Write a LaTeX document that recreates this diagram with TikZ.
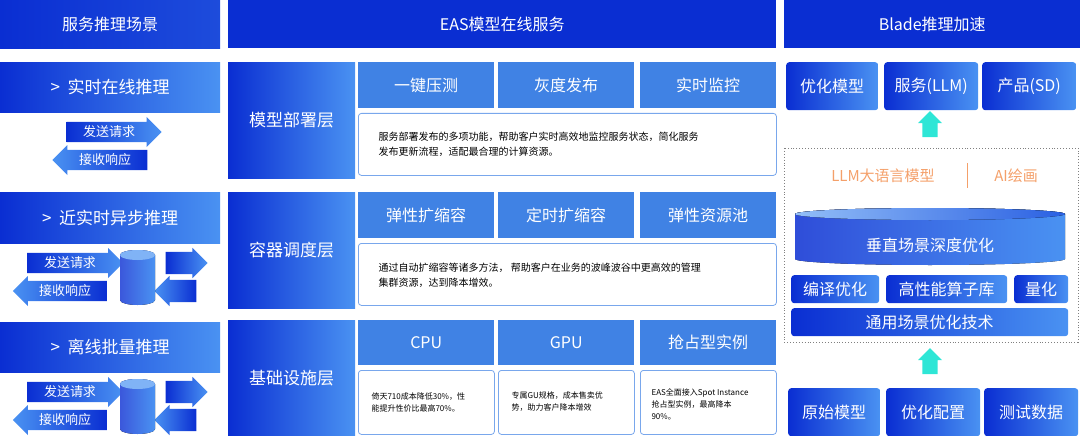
\documentclass[tikz,border=0pt]{standalone}
\usepackage{fontspec}
\setmainfont{Noto Sans CJK SC}
\usetikzlibrary{shapes.arrows,shapes.geometric}
\definecolor{dkb}{HTML}{0A2ED2}
\definecolor{ltb}{HTML}{4A92F2}
\definecolor{tabb}{HTML}{4082E4}
\definecolor{teal}{HTML}{2EE6D6}
\definecolor{org}{HTML}{F4A06A}
\begin{document}
\begin{tikzpicture}[x=1pt,y=-1pt,
  grad/.style={left color=dkb,right color=ltb,draw=none,text=white},
  hdr/.style={fill=dkb,text=white,font=\fontsize{16}{18}\selectfont,inner sep=0},
  ttl/.style={grad,font=\fontsize{17}{19}\selectfont,inner sep=0},
  tabx/.style={fill=tabb,text=white,font=\fontsize{16}{19}\selectfont,inner sep=0},
  desc/.style={draw=tabb!70,fill=white,rounded corners=3pt,line width=0.8pt,inner sep=0},
  rarr/.style={single arrow,grad,single arrow head extend=4pt,minimum width=30pt,inner xsep=0pt,inner ysep=2pt,font=\fontsize{13}{14}\selectfont},
  larr/.style={rarr,shape border rotate=180,left color=ltb,right color=dkb},
  earr/.style={single arrow,grad,single arrow head extend=4pt,minimum width=30pt,inner xsep=0pt,inner ysep=11pt,minimum height=42pt},
  elarr/.style={earr,shape border rotate=180,left color=ltb,right color=dkb},
  uparr/.style={single arrow,fill=teal,shape border rotate=90,minimum height=26pt,minimum width=24pt,single arrow head extend=4pt,inner sep=7pt},
  rbox/.style={grad,rounded corners=3pt,font=\fontsize{16}{19}\selectfont,inner sep=0}]
\useasboundingbox (0,0) rectangle (1080,436);
% headers
\node[hdr,minimum width=220pt,minimum height=48pt,anchor=north west,left color=dkb,right color=dkb!70!ltb] (h1) at (0,0) {服务推理场景};
\node[hdr,minimum width=548pt,minimum height=48pt,anchor=north west] (h2) at (228,0) {EAS模型在线服务};
\node[hdr,minimum width=296pt,minimum height=48pt,anchor=north west] (h3) at (784,0) {Blade推理加速};
% left titles
\node[ttl,minimum width=220pt,minimum height=50pt,anchor=north west] (t1) at (0,62) {\textgreater\ \ 实时在线推理};
\node[ttl,minimum width=220pt,minimum height=51pt,anchor=north west] (t2) at (0,192) {\textgreater\ \ 近实时异步推理};
\node[ttl,minimum width=220pt,minimum height=50pt,anchor=north west] (t3) at (0,322) {\textgreater\ \ 离线批量推理};
% row1 arrows
\node[rarr,minimum height=95pt] (s1) at (109,132) {发送请求};
\node[larr,minimum height=95pt] (r1) at (105,160) {接收响应};
% row2/3 arrows & cylinders
\foreach \y/\n in {263/2,392/3}{
  \node[rarr,minimum height=96pt] (s\n) at (70,\y) {发送请求};
  \node[larr,minimum height=94pt] (r\n) at (65,\y+28) {接收响应};
  \node[earr] (o\n) at (181,\y) {};
  \node[elarr] (i\n) at (181,\y+28) {};
  \fill[left color=dkb!80,right color=ltb] (120,\y-8) -- (120,\y+37) arc[start angle=180,end angle=360,x radius=17.5pt,y radius=5pt] -- (155,\y-8) arc[start angle=0,end angle=180,x radius=17.5pt,y radius=5pt];
  \fill[ltb!70] (137.5,\y-8) ellipse[x radius=17.5pt,y radius=5pt];
}
% middle layer labels
\node[ttl,minimum width=127pt,minimum height=116pt,anchor=north west] (L1) at (228,62) {模型部署层};
\node[ttl,minimum width=127pt,minimum height=116pt,anchor=north west] (L2) at (228,192) {容器调度层};
\node[ttl,minimum width=127pt,minimum height=116pt,anchor=north west] (L3) at (228,320) {基础设施层};
% tabs
\node[tabx,minimum width=136pt,minimum height=46pt,anchor=north west] (a1) at (358,62) {一键压测};
\node[tabx,minimum width=136pt,minimum height=46pt,anchor=north west] (a2) at (498,62) {灰度发布};
\node[tabx,minimum width=136pt,minimum height=46pt,anchor=north west] (a3) at (640,62) {实时监控};
\node[tabx,minimum width=136pt,minimum height=46pt,anchor=north west] (b1) at (358,192) {弹性扩缩容};
\node[tabx,minimum width=136pt,minimum height=46pt,anchor=north west] (b2) at (498,192) {定时扩缩容};
\node[tabx,minimum width=136pt,minimum height=46pt,anchor=north west] (b3) at (640,192) {弹性资源池};
\node[tabx,minimum width=136pt,minimum height=45pt,anchor=north west] (c1) at (358,320) {CPU};
\node[tabx,minimum width=136pt,minimum height=45pt,anchor=north west] (c2) at (498,320) {GPU};
\node[tabx,minimum width=136pt,minimum height=45pt,anchor=north west] (c3) at (640,320) {抢占型实例};
% descriptions
\node[desc,minimum width=418pt,minimum height=62pt,anchor=north west] (d1) at (358,113) {};
\node[anchor=west,font=\fontsize{10}{15}\selectfont,align=left] (d1t) at (375,144) {服务部署发布的多项功能，帮助客户实时高效地监控服务状态，简化服务\\发布更新流程，适配最合理的计算资源。};
\node[desc,minimum width=418pt,minimum height=62pt,anchor=north west] (d2) at (358,243) {};
\node[anchor=west,font=\fontsize{10}{15}\selectfont,align=left] (d2t) at (375,275) {通过自动扩缩容等诸多方法， 帮助客户在业务的波峰波谷中更高效的管理\\集群资源，达到降本增效。};
\node[desc,minimum width=136pt,minimum height=64pt,anchor=north west] (e1) at (358,370) {};
\node[anchor=west,font=\fontsize{8}{12}\selectfont,align=left] (e1t) at (368,402) {倚天710成本降低30\%，性\\能提升性价比最高70\%。};
\node[desc,minimum width=136pt,minimum height=64pt,anchor=north west] (e2) at (498,370) {};
\node[anchor=west,font=\fontsize{8}{12}\selectfont,align=left] (e2t) at (508,402) {专属GU规格，成本售卖优\\势，助力客户降本增效};
\node[desc,minimum width=136pt,minimum height=64pt,anchor=north west] (e3) at (640,370) {};
\node[anchor=west,font=\fontsize{8}{12}\selectfont,align=left] (e3t) at (648,404) {EAS全面接入Spot Instance\\抢占型实例，最高降本\\90\%。};
% right column
\node[rbox,minimum width=92pt,minimum height=48pt,anchor=north west] (p1) at (786,62) {优化模型};
\node[rbox,minimum width=94pt,minimum height=48pt,anchor=north west] (p2) at (884,62) {服务(LLM)};
\node[rbox,minimum width=94pt,minimum height=48pt,anchor=north west] (p3) at (982,62) {产品(SD)};
\node[uparr] (up1) at (930,128) {};
\draw[gray,dotted,line width=0.9pt] (784,148) rectangle (1078,342);
\node[text=org,font=\fontsize{15}{18}\selectfont] (llm) at (883,176) {LLM大语言模型};
\node[text=org,font=\fontsize{15}{18}\selectfont] (ai) at (1016,176) {AI绘画};
\draw[org,line width=1pt] (967,163) -- (967,188);
% big cylinder
\fill[left color=dkb!85,right color=ltb] (795,214) -- (795,259) arc[start angle=180,end angle=360,x radius=135pt,y radius=6pt] -- (1065,214) arc[start angle=0,end angle=180,x radius=135pt,y radius=6pt];
\fill[left color=ltb!60,right color=dkb!50!ltb] (930,214) ellipse[x radius=135pt,y radius=6pt];
\node[text=white,font=\fontsize{16}{19}\selectfont] (cyl) at (930,245) {垂直场景深度优化};
\node[rbox,minimum width=88pt,minimum height=28pt,anchor=north west] (q1) at (791,275) {编译优化};
\node[rbox,minimum width=121pt,minimum height=28pt,anchor=north west] (q2) at (886,275) {高性能算子库};
\node[rbox,minimum width=54pt,minimum height=28pt,anchor=north west] (q3) at (1014,275) {量化};
\node[rbox,minimum width=277pt,minimum height=28pt,anchor=north west] (q4) at (791,308) {通用场景优化技术};
\node[uparr] (up2) at (930,365) {};
\node[rbox,minimum width=92pt,minimum height=48pt,anchor=north west] (b1r) at (788,388) {原始模型};
\node[rbox,minimum width=94pt,minimum height=48pt,anchor=north west] (b2r) at (886,388) {优化配置};
\node[rbox,minimum width=94pt,minimum height=48pt,anchor=north west] (b3r) at (984,388) {测试数据};
\end{tikzpicture}
\end{document}
